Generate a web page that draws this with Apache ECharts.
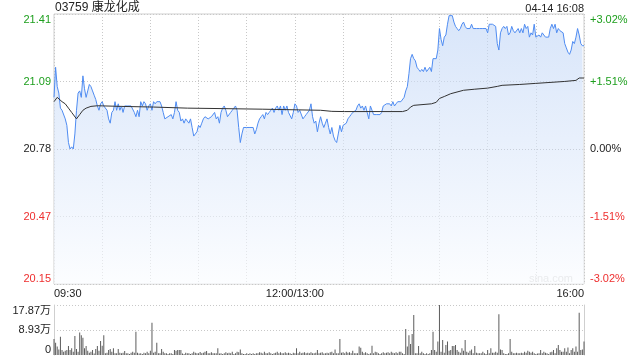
<!DOCTYPE html>
<html><head><meta charset="utf-8">
<script src="https://cdn.jsdelivr.net/npm/echarts@6/dist/echarts.min.js"></script>
<style>html,body{margin:0;padding:0;background:#fff}#c{width:640px;height:360px}</style>
</head><body><div id="c"></div>
<script>
const stockTitle = '03759 康龙化成';
const stampText = '04-14 16:08';
const watermark = 'sina.com';
const prevClose = 20.78;
const sessionMinutes = 330;
const timeTickMinutes = [0, 150, 330];
const timeTickLabels = ['09:30', '12:00/13:00', '16:00'];
const priceTickLabels = ['20.15', '20.47', '20.78', '21.09', '21.41'];
const pctTickLabels = ['-3.02%', '-1.51%', '0.00%', '+1.51%', '+3.02%'];
const volTickLabels = ['0', '8.93万', '17.87万'];
const volMax = 17.87;

// one price per minute (09:30 .. 12:00 | 13:01 .. 16:00)
const price = [
21.02,21.16,21.07,21.04,20.97,20.96,20.96,20.92,20.89,20.81,
20.78,20.79,20.78,20.85,20.96,21.04,21.05,21.02,21.12,21.06,
21.02,21.05,21.08,21.07,21.05,21.03,21.01,20.98,20.96,20.99,
21.00,20.98,20.98,20.96,20.92,20.90,20.95,20.96,21.00,20.96,
20.99,20.96,20.98,20.95,20.98,20.98,20.98,20.98,20.98,20.98,
20.95,20.93,20.96,20.93,21.00,20.98,21.00,20.99,20.96,20.98,
20.99,20.96,21.00,20.99,21.00,21.00,21.00,20.98,20.95,20.92,
20.92,20.93,20.93,20.94,20.92,20.95,21.00,20.96,20.95,20.91,
20.92,20.90,20.92,20.92,20.90,20.92,20.88,20.84,20.85,20.86,
20.89,20.88,20.90,20.92,20.93,20.93,20.92,20.92,20.93,20.93,
20.95,20.92,20.93,20.90,20.95,20.97,20.98,20.96,20.93,20.93,
20.95,20.96,20.97,20.98,20.96,20.88,20.81,20.85,20.88,20.88,
20.88,20.88,20.88,20.88,20.88,20.85,20.87,20.90,20.92,20.93,
20.94,20.92,20.95,20.94,20.95,20.96,20.97,20.95,20.97,20.98,
20.96,20.98,20.94,20.98,20.96,20.98,20.95,20.95,20.92,20.95,
20.99,20.98,20.95,20.96,20.96,20.92,20.93,20.94,20.94,20.96,
20.99,20.93,20.90,20.91,20.86,20.90,20.93,20.90,20.88,20.90,
20.92,20.88,20.85,20.88,20.84,20.82,20.81,20.85,20.89,20.86,
20.89,20.89,20.90,20.92,20.93,20.94,20.95,20.95,20.96,20.98,
20.99,20.97,20.98,20.96,20.98,20.95,20.92,20.98,20.96,20.94,
20.94,20.94,20.94,20.94,20.95,20.98,20.98,20.99,20.99,20.99,
20.98,21.00,20.98,20.99,21.00,21.00,21.00,21.00,21.02,21.05,
21.07,21.13,21.20,21.22,21.20,21.19,21.16,21.15,21.14,21.15,
21.14,21.16,21.14,21.14,21.16,21.14,21.20,21.20,21.20,21.24,
21.34,21.29,21.26,21.30,21.31,21.36,21.40,21.40,21.40,21.37,
21.35,21.34,21.33,21.34,21.36,21.37,21.35,21.34,21.34,21.34,
21.36,21.34,21.34,21.34,21.34,21.34,21.34,21.34,21.34,21.34,
21.32,21.36,21.36,21.36,21.36,21.35,21.27,21.24,21.32,21.34,
21.35,21.34,21.35,21.31,21.32,21.35,21.33,21.32,21.32,21.34,
21.32,21.34,21.32,21.36,21.34,21.35,21.30,21.32,21.31,21.36,
21.30,21.30,21.31,21.30,21.32,21.31,21.30,21.30,21.30,21.34,
21.36,21.34,21.36,21.32,21.34,21.33,21.33,21.32,21.27,21.25,
21.23,21.22,21.24,21.28,21.27,21.30,21.34,21.31,21.27,21.26,
21.26
];

// average price line, sampled at minute offsets
const avgMinute = [0,2,3,5,7,9,11,14,16,18,20,23,27,42,62,83,112,130,152,166,173,181,217,220,222,224,235,238,240,243,247,255,262,270,276,279,290,300,318,325,327,330];
const avgPrice = [21.00,21.02,21.02,21.00,20.99,20.97,20.95,20.92,20.94,20.96,20.97,20.978,20.981,20.978,20.975,20.970,20.967,20.965,20.962,20.960,20.955,20.954,20.954,20.960,20.975,20.983,20.990,20.997,21.015,21.024,21.037,21.053,21.058,21.063,21.071,21.076,21.080,21.085,21.094,21.099,21.110,21.110];

// volume per minute, in 万 shares
const volume = [
5.7,4.4,3.0,2.0,6.5,1.8,1.2,1.5,1.8,3.2,
1.8,2.4,1.2,6.8,2.1,1.2,8.0,7.1,6.2,2.4,
3.2,1.5,0.8,1.2,1.8,0.5,2.1,3.2,1.5,5.0,
3.3,7.1,0.6,0.8,1.8,2.1,1.2,2.4,0.6,0.6,
2.1,0.8,0.6,0.8,1.4,0.6,0.6,0.4,0.8,1.2,
0.8,8.3,0.8,0.5,0.6,0.4,0.8,0.6,1.2,0.6,
1.5,11.5,0.8,1.2,4.4,0.6,0.6,2.1,1.2,0.6,
0.6,0.4,0.6,0.6,0.4,1.8,1.5,1.8,1.8,1.8,
0.5,0.4,0.8,0.6,0.6,0.4,0.6,1.2,0.8,0.6,
0.6,1.1,0.6,0.8,1.2,1.4,0.6,0.6,1.0,0.6,
0.6,0.6,2.4,0.5,0.6,0.4,0.6,1.0,0.6,0.8,
0.6,1.2,0.4,0.6,1.2,1.0,2.0,0.6,0.4,0.4,
0.6,0.4,0.6,0.4,0.6,0.4,0.6,0.6,1.0,0.8,
0.5,1.2,0.6,0.6,1.0,0.6,0.4,0.6,0.8,1.2,
0.6,1.0,0.6,0.6,1.0,0.6,0.8,0.6,0.4,0.8,
0.6,2.4,0.6,1.2,0.6,0.8,1.0,0.6,0.8,0.6,
1.0,0.6,0.6,0.8,1.8,0.6,0.8,1.0,0.5,0.6,
0.8,0.6,1.0,1.2,0.6,2.0,0.6,0.6,5.7,0.8,
1.0,0.6,1.2,0.8,1.0,0.6,1.5,0.6,0.6,0.6,
3.0,2.6,1.2,0.6,1.0,0.6,0.4,0.6,3.3,0.6,
1.2,1.0,0.6,0.4,0.6,1.0,0.6,0.8,1.0,0.6,
1.2,0.8,0.6,1.0,0.6,1.2,1.2,0.6,0.4,9.3,
3.0,7.1,3.9,7.5,14.3,0.6,0.6,3.2,0.6,1.2,
0.6,0.4,0.6,0.4,0.6,1.8,8.3,1.8,1.2,4.8,
17.87,1.2,5.4,0.8,3.6,4.8,1.5,1.8,3.2,3.2,
3.6,1.8,1.2,0.8,2.4,1.5,5.4,1.2,0.8,1.5,
2.0,0.6,3.2,0.8,0.6,0.6,0.6,1.2,0.6,0.4,
1.8,0.6,2.4,0.8,0.8,1.2,0.8,14.6,2.0,1.8,
0.6,0.4,0.4,0.6,5.7,1.2,0.6,0.6,0.8,0.6,
0.6,0.8,0.6,1.2,0.8,1.5,1.2,0.8,1.2,0.6,
0.4,0.5,0.6,1.8,0.6,1.2,0.8,0.6,0.4,1.0,
1.2,1.8,0.6,2.4,3.6,1.8,1.2,1.2,2.4,1.2,
2.7,0.6,1.8,2.4,1.2,3.0,1.2,15.1,1.8,2.0,
4.8
];

const FONT = '"Liberation Sans", Arial, "Noto Sans CJK SC", sans-serif';
const GREEN = '#1d9f1d', RED = '#ee2f2f', DARK = '#222';
const PCT = 3.02, STEP = 1.51;
const pct = p => (p / prevClose - 1) * 100;
const tickIdx = v => Math.round((parseFloat(v) + PCT) / STEP);
const tickColor = v => { const i = tickIdx(v); return i < 2 ? RED : (i > 2 ? GREEN : DARK); };

const chart = echarts.init(document.getElementById('c'), null, {renderer: 'canvas'});
chart.setOption({
  animation: false,
  backgroundColor: '#fff',
  textStyle: {fontFamily: FONT},
  title: [
    {text: stockTitle, left: 55, top: 2, padding: 0, textStyle: {fontSize: 12, fontWeight: 'normal', color: '#222', fontFamily: FONT}},
    {text: stampText, right: 56, top: 3, padding: 0, textStyle: {fontSize: 11, fontWeight: 'normal', color: '#222', fontFamily: FONT}}
  ],
  graphic: [
    {type: 'text', right: 67, top: 273, z: 1, style: {text: watermark, fill: '#cfcfcf', font: '11px ' + FONT}}
  ],
  grid: [
    {left: 54, top: 14, width: 530, height: 270, show: true, borderColor: '#cfcfcf', borderWidth: 1},
    {left: 54, top: 305, width: 530, height: 50}
  ],
  xAxis: [
    {gridIndex: 0, type: 'value', min: 0, max: sessionMinutes, interval: 30,
     axisLine: {show: false}, axisTick: {show: false},
     splitLine: {show: true, lineStyle: {color: '#c8c8c8', type: [1, 2]}},
     axisLabel: {fontSize: 11, color: '#222', margin: 4, fontFamily: FONT,
       alignMinLabel: 'left', alignMaxLabel: 'right',
       formatter: v => { const k = timeTickMinutes.indexOf(Math.round(v)); return k >= 0 ? timeTickLabels[k] : ''; }}},
    {gridIndex: 1, type: 'value', min: 0, max: sessionMinutes, interval: 30,
     axisLine: {show: false}, axisTick: {show: false}, splitLine: {show: false}, axisLabel: {show: false}}
  ],
  yAxis: [
    {gridIndex: 0, type: 'value', position: 'left', min: -PCT, max: PCT, interval: STEP,
     axisLine: {show: false}, axisTick: {show: false},
     splitLine: {show: true, lineStyle: {color: ['#c8c8c8', '#c8c8c8', '#a8a8a8', '#c8c8c8', '#c8c8c8'], type: [1, 2]}},
     axisLabel: {fontSize: 11, margin: 3, fontFamily: FONT,
       verticalAlignMinLabel: 'bottom', verticalAlignMaxLabel: 'top',
       color: v => tickColor(v), formatter: v => priceTickLabels[tickIdx(v)]}},
    {gridIndex: 0, type: 'value', position: 'right', min: -PCT, max: PCT, interval: STEP,
     axisLine: {show: false}, axisTick: {show: false}, splitLine: {show: false},
     axisLabel: {fontSize: 11, margin: 6, fontFamily: FONT,
       verticalAlignMinLabel: 'bottom', verticalAlignMaxLabel: 'top',
       color: v => tickColor(v), formatter: v => pctTickLabels[tickIdx(v)]}},
    {gridIndex: 1, type: 'value', position: 'left', min: 0, max: volMax, interval: volMax / 2,
     axisLine: {show: true, lineStyle: {color: '#cfcfcf'}}, axisTick: {show: false},
     splitLine: {show: true, lineStyle: {color: ['rgba(0,0,0,0)', '#c8c8c8', '#c8c8c8'], type: [1, 2]}},
     axisLabel: {fontSize: 11, margin: 3, color: '#222', fontFamily: FONT,
       verticalAlignMinLabel: 'bottom', verticalAlignMaxLabel: 'top',
       formatter: v => volTickLabels[Math.round(v / (volMax / 2))]}},
    {gridIndex: 1, type: 'value', position: 'right', min: 0, max: volMax, interval: volMax / 2,
     axisLine: {show: true, lineStyle: {color: '#cfcfcf'}}, axisTick: {show: false},
     splitLine: {show: false}, axisLabel: {show: false}}
  ],
  series: [
    {type: 'line', xAxisIndex: 0, yAxisIndex: 0, z: 3, showSymbol: false, silent: true,
     data: price.map((p, i) => [i, pct(p)]),
     lineStyle: {color: '#4f8cf2', width: 1},
     areaStyle: {origin: 'start', color: new echarts.graphic.LinearGradient(0, 0, 0, 1, [
       {offset: 0, color: 'rgba(190,212,246,0.85)'}, {offset: 1, color: 'rgba(250,252,255,0.9)'}])}},
    {type: 'line', xAxisIndex: 0, yAxisIndex: 0, z: 4, showSymbol: false, silent: true,
     data: avgMinute.map((m, i) => [m, pct(avgPrice[i])]),
     lineStyle: {color: '#333', width: 1}},
    {type: 'bar', xAxisIndex: 1, yAxisIndex: 2, barWidth: 1, silent: true,
     data: volume.map((v, i) => [i, v]),
     itemStyle: {color: '#5c5c5c'}}
  ]
});
</script></body></html>
